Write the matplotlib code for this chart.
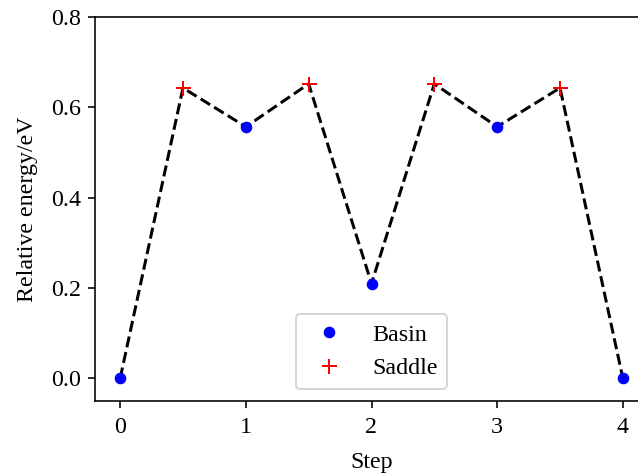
import matplotlib
matplotlib.use("Agg")
import matplotlib.pyplot as plt

plt.rcParams['font.family'] = ['Liberation Serif', 'DejaVu Serif']
plt.rcParams['font.size'] = 12

# Reaction path: basins at integer steps, saddles at half steps
path_steps = [0, 0.5, 1, 1.5, 2, 2.5, 3, 3.5, 4]
path_energy = [0.0, 0.643, 0.557, 0.652, 0.210, 0.652, 0.557, 0.643, 0.0]

basin_steps = [0, 1, 2, 3, 4]
basin_energy = [0.0, 0.557, 0.210, 0.557, 0.0]

saddle_steps = [0.5, 1.5, 2.5, 3.5]
saddle_energy = [0.643, 0.652, 0.652, 0.643]

DPI = 144
fig = plt.figure(figsize=(638 / DPI, 476 / DPI), dpi=DPI)
ax = fig.add_axes([95/638, 1 - 401/476, (648 - 95)/638, (401 - 17)/476])

ax.plot(path_steps, path_energy, 'k--', lw=1.5, zorder=1)
ax.plot(basin_steps, basin_energy, 'o', color='blue', ms=4.8, ls='none', label='Basin', zorder=2)
ax.plot(saddle_steps, saddle_energy, '+', color='red', ms=7.5, mew=1.0, ls='none', label='Saddle', zorder=2)

ax.set_ylim(-0.05, 0.8)
ax.set_xlim(-0.2, 4.2)
ax.set_xticks([0, 1, 2, 3, 4])
ax.set_yticks([0.0, 0.2, 0.4, 0.6, 0.8])
ax.tick_params(axis='x', pad=4.5)
ax.set_xlabel('Step', labelpad=7)
ax.set_ylabel('Relative energy/eV', labelpad=6.5)
ax.legend(loc='lower center')

fig.savefig('out.png', dpi=DPI)
